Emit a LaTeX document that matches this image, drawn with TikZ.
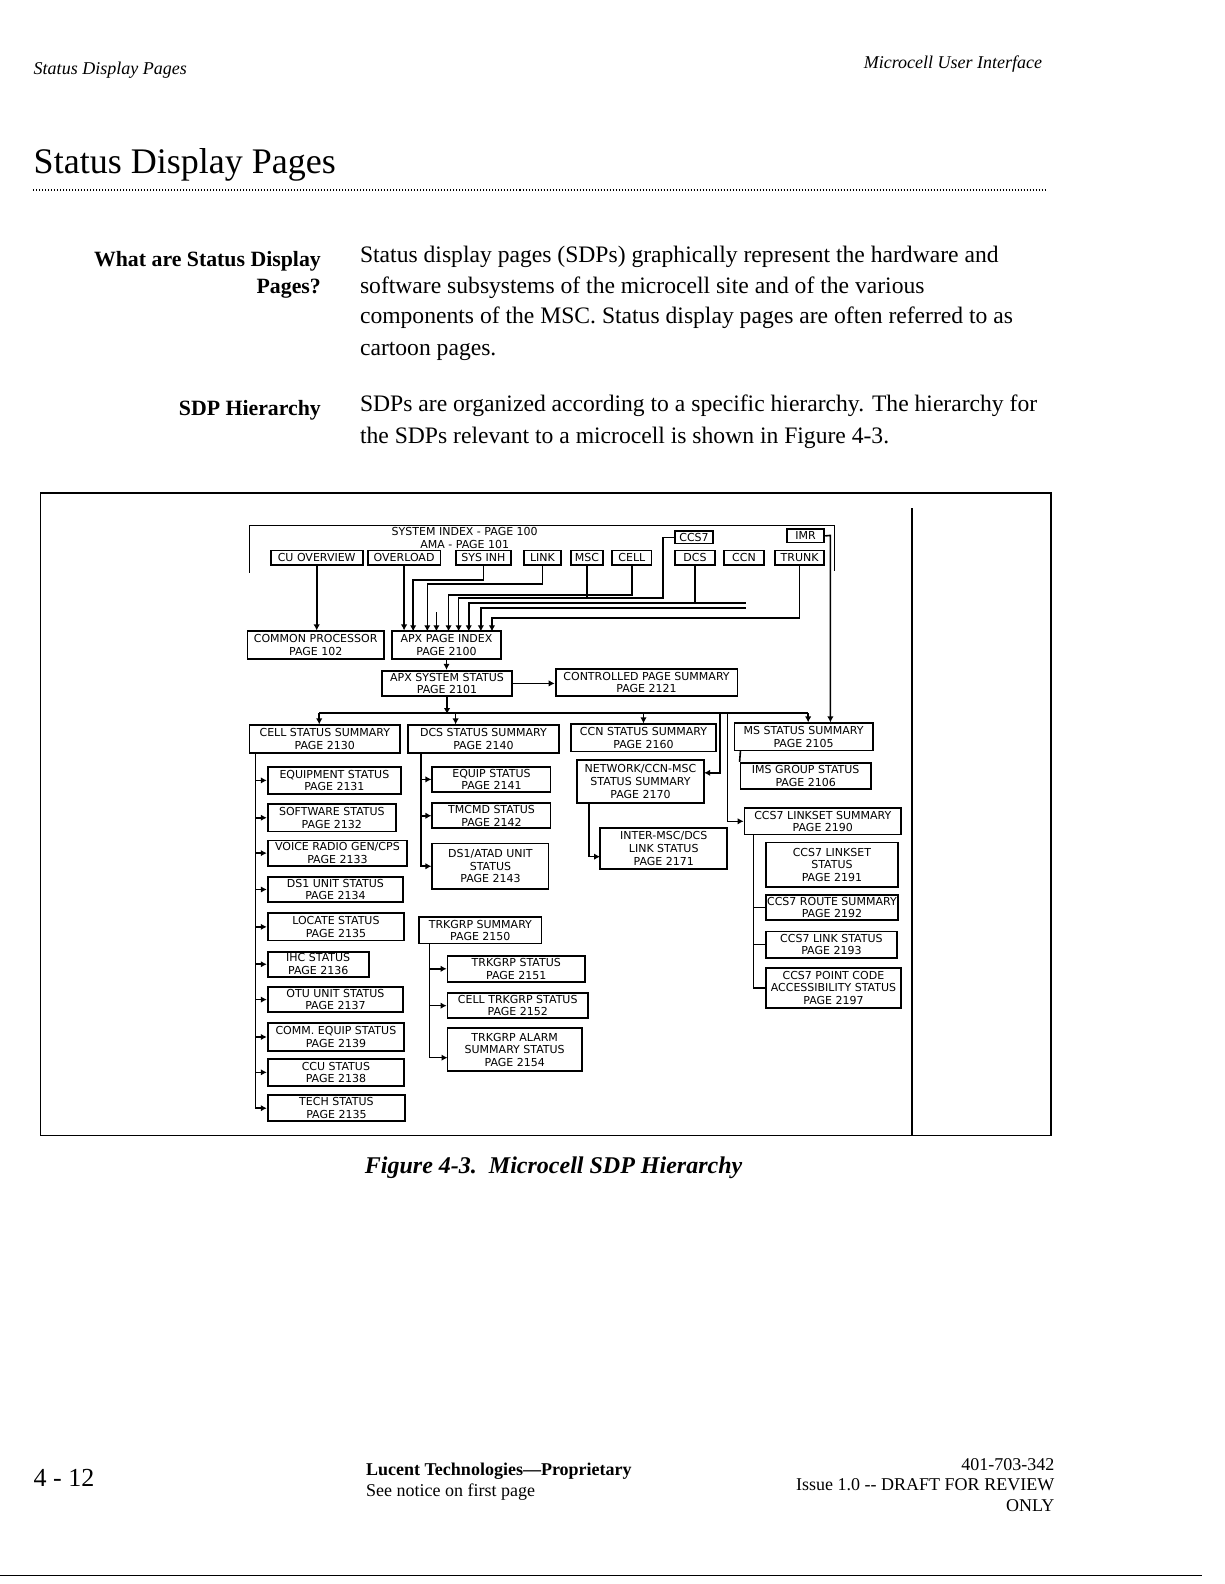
\documentclass[tikz,border=0pt]{standalone}
\usepackage{fontspec}
\setmainfont{Liberation Serif}
\newfontfamily\sdpfont{DejaVu Sans}
\usetikzlibrary{arrows.meta}
\tikzset{
  sdp/.style={draw, line width=0.9pt, align=center, inner sep=0.3pt,
              font={\sdpfont\fontsize{5.5}{6.3}\selectfont}},
  idxtxt/.style={inner sep=0pt, font={\sdpfont\fontsize{5.5}{6.3}\selectfont}},
  feed/.style={-{Latex[length=3pt,width=3.2pt]}, line width=0.8pt},
  link/.style={line width=0.8pt},
  pgtxt/.style={inner sep=0pt},
  bodytxt/.style={inner sep=0pt, anchor=west, font=\fontsize{11.8}{14}\selectfont},
  headtxt/.style={inner sep=0pt, anchor=east, font=\bfseries\fontsize{10.9}{14}\selectfont},
}
\newcommand{\sdpbox}[6]{\node[sdp, minimum width={(#4-#2)*0.50495pt},
    minimum height={(#5-#3)*0.50495pt}] (#1) at ({(#2+#4)/2},{(#3+#5)/2}) {#6};}

\begin{document}
\begin{tikzpicture}[x=0.50495pt, y=-0.50495pt]
  \useasboundingbox (0,0) rectangle (1212,1568);
  % running head and title
  \node[pgtxt, anchor=west, font=\itshape\fontsize{9}{11}\selectfont] (runl) at (33,69) {Status Display Pages};
  \node[pgtxt, anchor=east, font=\itshape\fontsize{9}{11}\selectfont] (runr) at (1032,63) {Microcell User Interface};
  \node[pgtxt, anchor=west, font=\fontsize{18}{21}\selectfont] (title) at (33,163) {Status Display Pages};
  \draw[line width=0.6pt, dash pattern=on 0.5pt off 1pt] (33,188) -- (1037,188);
  % text
  \node[headtxt] (qhead1) at (318,259) {What are Status Display};
  \node[headtxt] (qhead2) at (318,286) {Pages?};
  \node[bodytxt] (qline1) at (356,254) {Status display pages (SDPs) graphically represent the hardware and};
  \node[bodytxt] (qline2) at (356,285) {software subsystems of the microcell site and of the various};
  \node[bodytxt] (qline3) at (356,315) {components of the MSC. Status display pages are often referred to as};
  \node[bodytxt] (qline4) at (356,348) {cartoon pages.};
  \node[headtxt] (hhead) at (318,406) {SDP Hierarchy};
  \node[bodytxt] (hline1) at (356,402) {SDPs are organized according to a specific hierarchy. The hierarchy for};
  \node[bodytxt] (hline2) at (356,433) {the SDPs relevant to a microcell is shown in Figure 4-3.};
  % figure frame
  \draw[line width=0.9pt] (40,488) rectangle (1040,1124);
  \draw[line width=0.9pt] (903,503) -- (903,1124);

  % system index
  \coordinate (idxsw) at (247,567);
  \coordinate (idxnw) at (247,520);
  \coordinate (idxne) at (826,520);
  \coordinate (idxse) at (826,565);
  \draw[link] (idxsw) -- (idxnw) -- (idxne) -- (idxse);
  \node[idxtxt] (sysidx) at (460,526) {SYSTEM INDEX - PAGE 100};
  \node[idxtxt] (amaidx) at (460,539) {AMA - PAGE 101};
  \sdpbox{cuov}{268}{545}{359}{559}{CU OVERVIEW}
  \sdpbox{ovld}{364}{545}{436}{559}{OVERLOAD}
  \sdpbox{sysinh}{451}{545}{506}{559}{SYS INH}
  \sdpbox{link}{519}{545}{555}{559}{LINK}
  \sdpbox{msc}{565}{545}{597}{559}{MSC}
  \sdpbox{cell}{606}{545}{645}{559}{CELL}
  \sdpbox{dcs}{668}{545}{708}{559}{DCS}
  \sdpbox{ccn}{717}{545}{756}{559}{CCN}
  \sdpbox{trunk}{767}{545}{816}{559}{TRUNK}
  \sdpbox{ccs}{668}{526}{706}{538}{CCS7}
  \sdpbox{imr}{779}{524}{816}{537}{IMR}

  % second level
  \sdpbox{cproc}{245}{625}{380}{652}{COMMON PROCESSOR\\PAGE 102}
  \sdpbox{apxidx}{388}{625}{496}{652}{APX PAGE INDEX\\PAGE 2100}
  \sdpbox{apxsys}{378}{664}{507}{689}{APX SYSTEM STATUS\\PAGE 2101}
  \sdpbox{ctlsum}{550}{662}{730}{689}{CONTROLLED PAGE SUMMARY\\PAGE 2121}
  \draw[feed] (cuov.south) -- (cuov.south |- cproc.north);
  \foreach \k/\x in {1/400,2/409,3/423,4/432,5/444,6/454,7/464,8/476,9/487}
    {\coordinate (ax\k) at (\x,625);}
  \coordinate (stub4) at (432,606);
  \coordinate (ccnend1) at (738,597);
  \coordinate (ccnend2) at (738,602);
  \draw[feed] (ovld.south) -- (ovld.south |- apxidx.north);
  \draw[feed] (sysinh.south) -- ++(0,14) -| (ax2);
  \draw[feed] (link.south) -- ++(0,18) -| (ax3);
  \draw[link] (msc.south) -- ++(0,32);
  \draw[feed] (stub4) -- (ax4);
  \draw[feed] (cell.south) -- ++(0,29) -| (ax5);
  \draw[feed] (ccs.west) -- ++(-11,0) -- ++(0,60) -| (ax6);
  \draw[link] (dcs.south) -- ++(0,38);
  \draw[feed] (ccnend1) -| (ax7);
  \draw[feed] (ccnend2) -| (ax8);
  \draw[feed] (trunk.south) -- ++(0,52) -| (ax9);
  \draw[feed] (apxidx.south) -- (apxidx.south |- apxsys.north);
  \draw[feed] (apxsys.east) -- (apxsys.east -| ctlsum.west);

  % summaries
  \sdpbox{cellsum}{247}{718}{396}{745}{CELL STATUS SUMMARY\\PAGE 2130}
  \sdpbox{dcssum}{404}{718}{553}{745}{DCS STATUS SUMMARY\\PAGE 2140}
  \sdpbox{ccnsum}{565}{717}{709}{744}{CCN STATUS SUMMARY\\PAGE 2160}
  \sdpbox{mssum}{727}{716}{864}{743}{MS STATUS SUMMARY\\PAGE 2105}
  \coordinate (busl) at (316,706);
  \coordinate (busr) at (800,706);
  \coordinate (busdcs) at (451,706);
  \coordinate (busnet) at (713,706);
  \coordinate (busccs) at (720,706);
  \coordinate (imrturn) at (822,530);
  \draw[feed] (apxsys.south) -- ++(0,17);
  \draw[link] (busl) -- (busr);
  \draw[feed] (busl) -- (busl |- cellsum.north);
  \draw[feed] (busdcs) -- (busdcs |- dcssum.north);
  \draw[feed] (ccnsum.north |- busl) -- (ccnsum.north);
  \draw[feed] (busr) -- (busr |- mssum.north);
  \draw[feed] (imr.east) -- (imrturn) -- (imrturn |- mssum.north);

  % cell branch
  \sdpbox{eqst}{265}{759}{397}{786}{EQUIPMENT STATUS\\PAGE 2131}
  \sdpbox{swst}{265}{796}{392}{823}{SOFTWARE STATUS\\PAGE 2132}
  \sdpbox{vrgst}{265}{832}{403}{857}{VOICE RADIO GEN/CPS\\PAGE 2133}
  \sdpbox{dsust}{265}{868}{399}{893}{DS1 UNIT STATUS\\PAGE 2134}
  \sdpbox{locst}{265}{904}{400}{931}{LOCATE STATUS\\PAGE 2135}
  \sdpbox{ihcst}{265}{942}{365}{967}{IHC STATUS\\PAGE 2136}
  \sdpbox{otust}{265}{977}{399}{1002}{OTU UNIT STATUS\\PAGE 2137}
  \sdpbox{cmest}{265}{1013}{400}{1040}{COMM. EQUIP STATUS\\PAGE 2139}
  \sdpbox{ccust}{265}{1048}{400}{1075}{CCU STATUS\\PAGE 2138}
  \sdpbox{techst}{265}{1084}{401}{1110}{TECH STATUS\\PAGE 2135}
  \coordinate (celltrk) at (253,745);
  \foreach \kid in {eqst,swst,vrgst,dsust,locst,ihcst,otust,cmest,ccust,techst}
    {\draw[feed] (celltrk) |- (\kid.west);}

  % dcs branch
  \sdpbox{dceq}{428}{759}{545}{784}{EQUIP STATUS\\PAGE 2141}
  \sdpbox{dctm}{428}{795}{545}{820}{TMCMD STATUS\\PAGE 2142}
  \sdpbox{dcds}{428}{835}{543}{880}{DS1/ATAD UNIT\\STATUS\\PAGE 2143}
  \coordinate (dcstrk) at (417,745);
  \foreach \kid in {dceq,dctm,dcds}
    {\draw[feed] (dcstrk) |- (\kid.west);}

  % trunk groups
  \sdpbox{tgsum}{415}{908}{536}{934}{TRKGRP SUMMARY\\PAGE 2150}
  \sdpbox{tgst}{443}{946}{579}{972}{TRKGRP STATUS\\PAGE 2151}
  \sdpbox{ctgst}{443}{983}{582}{1008}{CELL TRKGRP STATUS\\PAGE 2152}
  \sdpbox{tgal}{443}{1018}{576}{1060}{TRKGRP ALARM\\SUMMARY STATUS\\PAGE 2154}
  \coordinate (tgtrk) at (425,934);
  \coordinate (tgalin) at (443,1047);
  \draw[feed] (tgtrk) |- (tgst.west);
  \draw[feed] (tgtrk) |- (ctgst.west);
  \draw[feed] (tgtrk) |- (tgalin);

  % ccn branch
  \sdpbox{netsum}{571}{752}{697}{795}{NETWORK/CCN-MSC\\STATUS SUMMARY\\PAGE 2170}
  \sdpbox{intmsc}{594}{820}{720}{860}{INTER-MSC/DCS\\LINK STATUS\\PAGE 2171}
  \coordinate (netin) at (697,765);
  \coordinate (nettrk) at (583,795);
  \coordinate (intin) at (594,848);
  \draw[feed] (busnet) |- (netin);
  \draw[feed] (nettrk) |- (intin);

  % ms branch
  \sdpbox{imsgp}{733}{755}{862}{781}{IMS GROUP STATUS\\PAGE 2106}
  \sdpbox{ccssum}{737}{800}{892}{826}{CCS7 LINKSET SUMMARY\\PAGE 2190}
  \sdpbox{csst}{758}{834}{889}{878}{CCS7 LINKSET\\STATUS\\PAGE 2191}
  \sdpbox{crs}{758}{886}{889}{911}{CCS7 ROUTE SUMMARY\\PAGE 2192}
  \sdpbox{cls}{758}{922}{888}{948}{CCS7 LINK STATUS\\PAGE 2193}
  \sdpbox{cpc}{758}{958}{892}{998}{CCS7 POINT CODE\\ACCESSIBILITY STATUS\\PAGE 2197}
  \coordinate (msdrop) at (733,743);
  \coordinate (ccstrk) at (746,826);
  \draw[link] (msdrop) -- (imsgp.north west);
  \draw[feed] (busccs) |- (ccssum.west);
  \foreach \kid in {crs,cls,cpc}
    {\draw[link] (ccstrk) |- (\kid.west);}

  % caption and footer
  \node[pgtxt, font=\bfseries\itshape\fontsize{12}{14}\selectfont] (figcap) at (548,1156) {Figure 4-3.\ \ Microcell SDP Hierarchy};
  \node[pgtxt, anchor=west, font=\fontsize{13}{15}\selectfont] (pgno) at (33,1463) {4 - 12};
  \node[pgtxt, anchor=west, font=\bfseries\fontsize{9}{11}\selectfont] (prop) at (362,1456) {Lucent Technologies---Proprietary};
  \node[pgtxt, anchor=west, font=\fontsize{9}{11}\selectfont] (notice) at (362,1477) {See notice on first page};
  \node[pgtxt, anchor=east, font=\fontsize{9}{11}\selectfont] (docno) at (1044,1450) {401-703-342};
  \node[pgtxt, anchor=east, font=\fontsize{9}{11}\selectfont] (issue) at (1044,1470) {Issue 1.0 {-}{-} DRAFT FOR REVIEW};
  \node[pgtxt, anchor=east, font=\fontsize{9}{11}\selectfont] (only) at (1044,1490) {ONLY};
  \draw[line width=0.5pt] (0,1560) -- (1190,1560);
\end{tikzpicture}
\end{document}
